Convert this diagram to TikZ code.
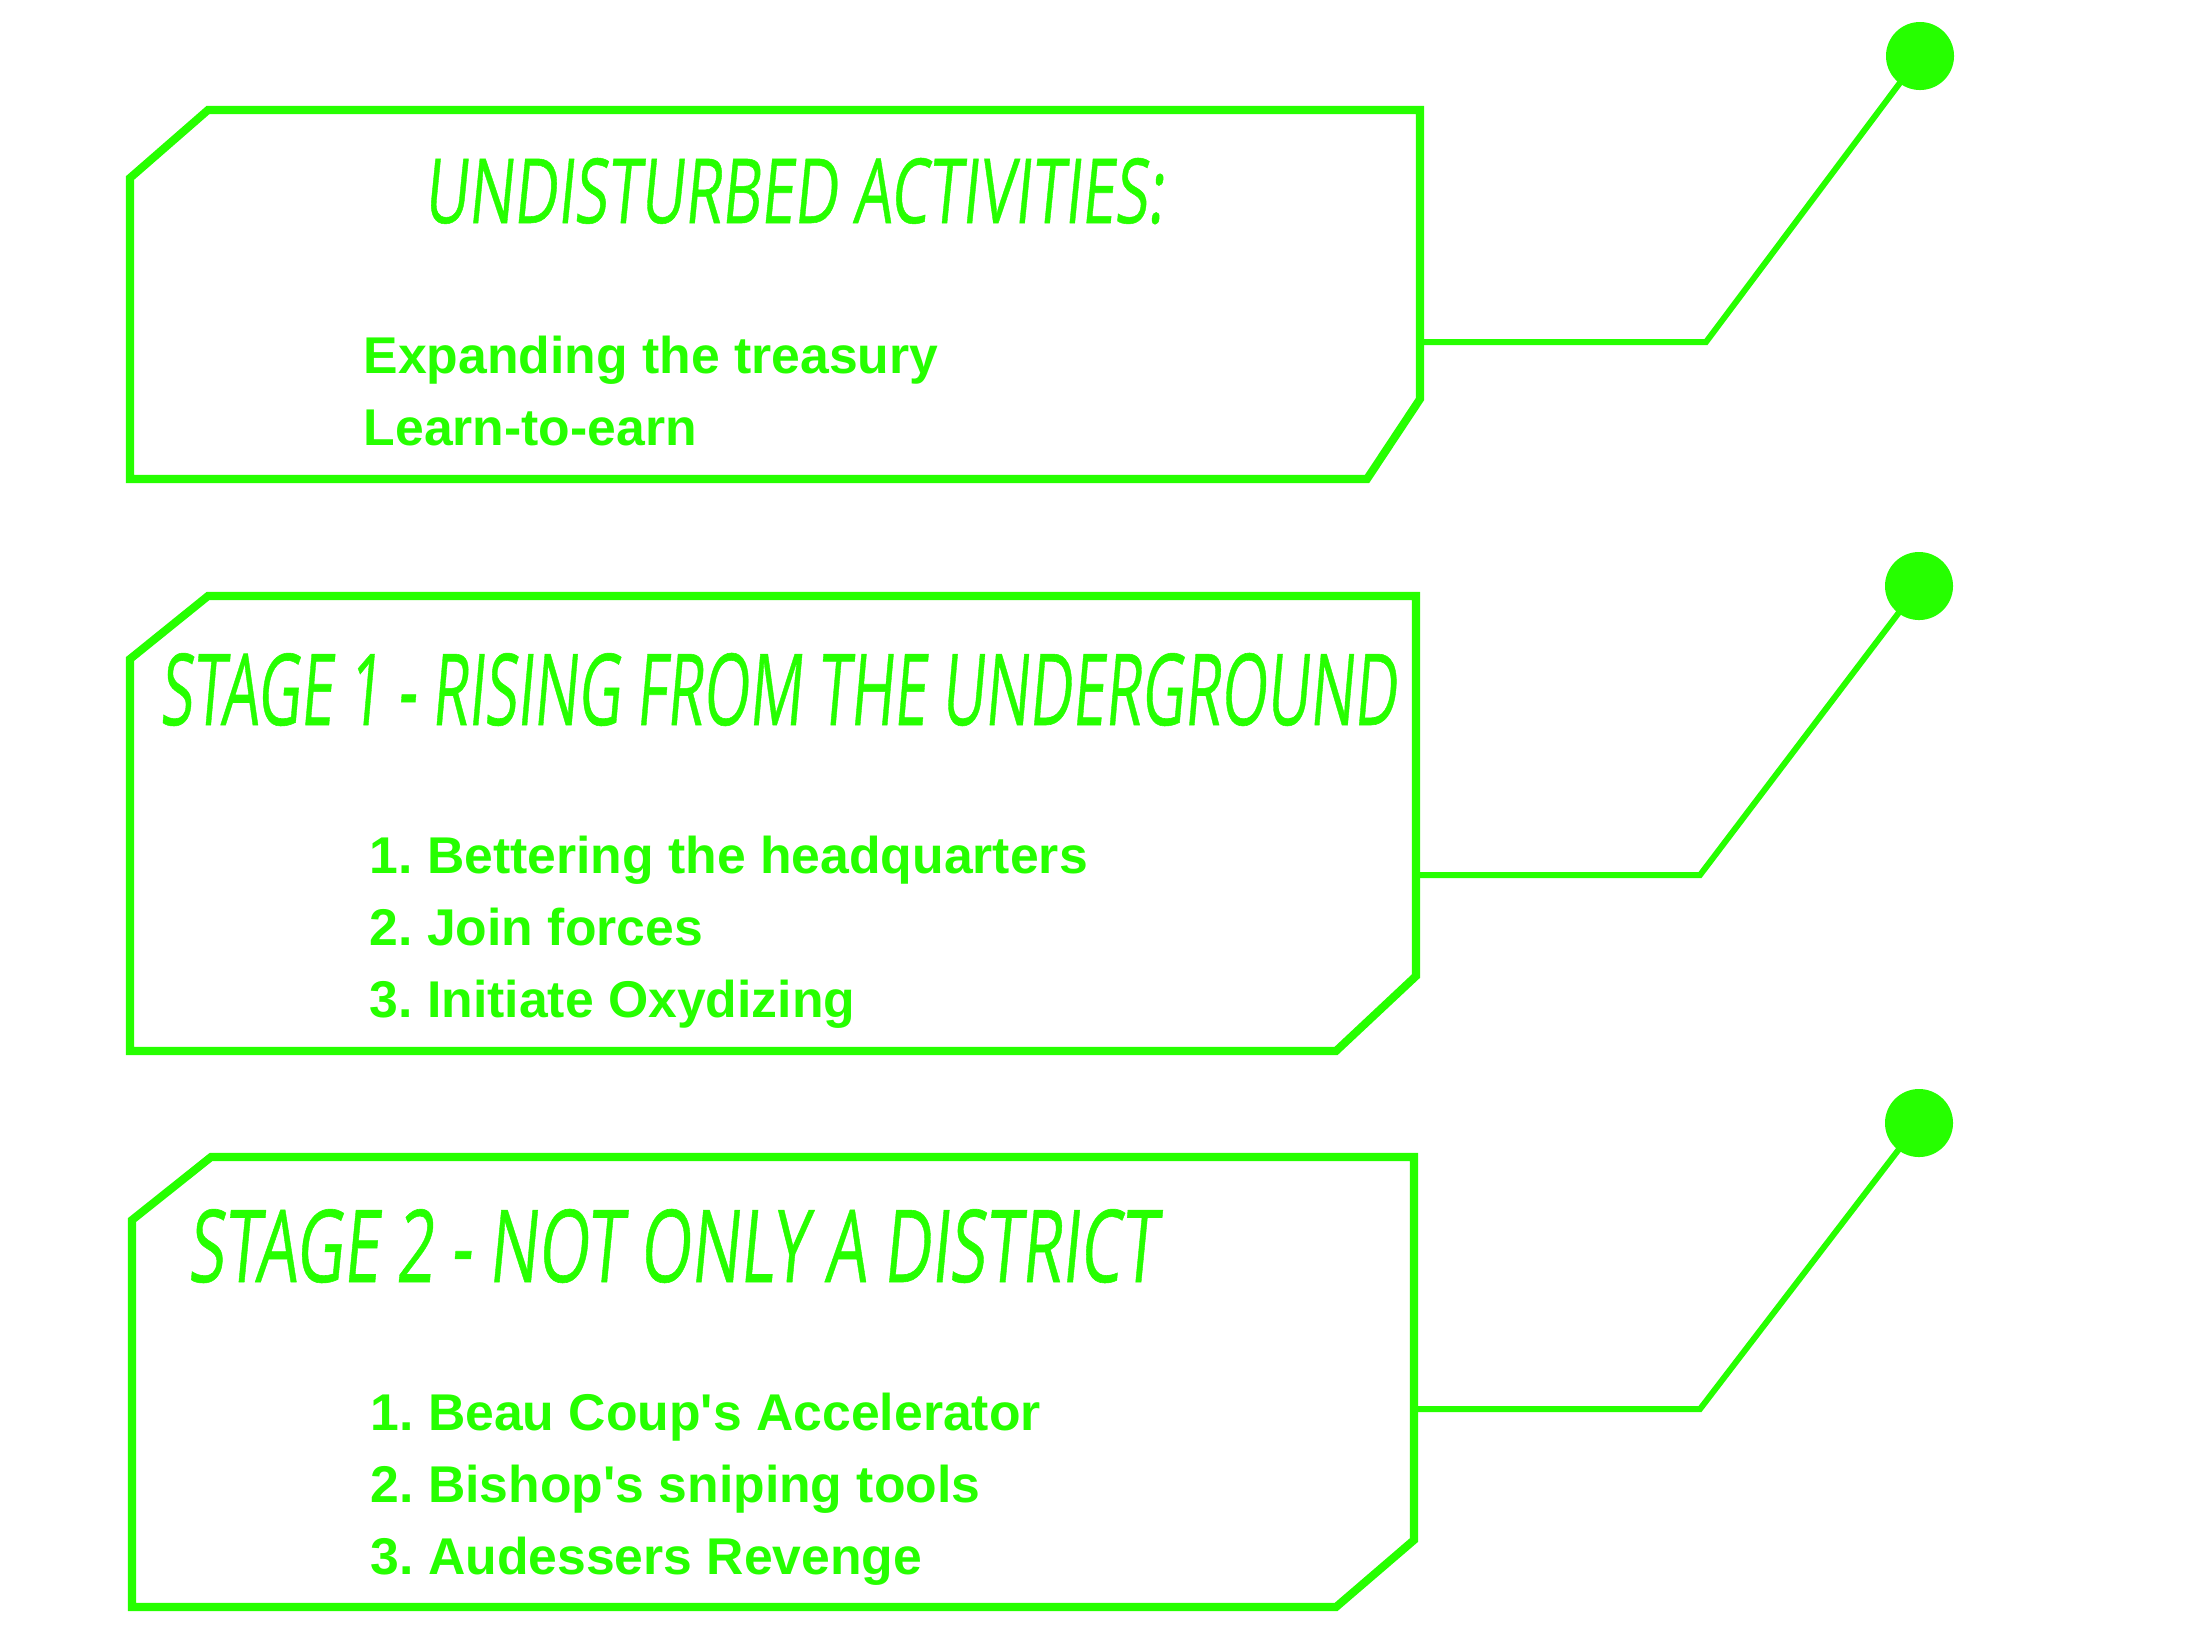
\documentclass[tikz,border=0pt]{standalone}
\usepackage{fontspec}
\usepackage{graphicx}
\setmainfont{Liberation Sans}
\newfontfamily\handfont[FakeSlant=0.15,FakeBold=0.6]{Open Sans}
\definecolor{neon}{RGB}{38,255,0}

\newcommand{\headtext}[3]{\resizebox{#1}{#2}{\handfont #3}}

\begin{document}
\frenchspacing
\begin{tikzpicture}[x=0.01cm,y=-0.01cm,
  panel/.style={draw=neon, line width=2.3pt, line join=miter},
  wire/.style={draw=neon, line width=1.7pt, line join=miter},
  pin/.style={circle, fill=neon, minimum size=0.68cm, inner sep=0pt},
  headline/.style={anchor=base west, inner sep=0pt, text=neon},
  item/.style={anchor=base west, inner sep=0pt, text=neon,
    font=\fontsize{14.7pt}{18pt}\selectfont\bfseries}]

\useasboundingbox (0,0) rectangle (2209,1632);

% --- panels with clipped corners ---
\draw[panel] (208,110) -- (1420,110) -- (1420,399) -- (1367,479)
  -- (130,479) -- (130,178) -- cycle;
\draw[panel] (208,596) -- (1416,596) -- (1416,976) -- (1336,1051)
  -- (130,1051) -- (130,659) -- cycle;
\draw[panel] (211,1157) -- (1414,1157) -- (1414,1540) -- (1336,1607)
  -- (132,1607) -- (132,1220) -- cycle;

% --- headings ---
\node[headline] (h0) at (423,223) {\headtext{7.39cm}{0.65cm}{UNDISTURBED ACTIVITIES:}};
\node[headline] (h1) at (159,725) {\headtext{12.36cm}{0.72cm}{STAGE 1 - RISING FROM THE UNDERGROUND}};
\node[headline] (h2) at (187,1282) {\headtext{9.68cm}{0.73cm}{STAGE 2 - NOT ONLY A DISTRICT}};

% --- items ---
\node[item] (a1) at (363,373) {Expanding the treasury};
\node[item] (a2) at (363,445) {Learn-to-earn};

\node[item] (b1) at (369,873) {1. Bettering the headquarters};
\node[item] (b2) at (369,945) {2. Join forces};
\node[item] (b3) at (369,1017) {3. Initiate Oxydizing};

\node[item] (c1) at (370,1430) {1. Beau Coup\textquotesingle s Accelerator};
\node[item] (c2) at (370,1502) {2. Bishop\textquotesingle s sniping tools};
\node[item] (c3) at (370,1574) {3. Audessers Revenge};

% --- pins and their leads ---
\node[pin] (p0) at (1920,56) {};
\node[pin] (p1) at (1919,586) {};
\node[pin] (p2) at (1919,1123) {};

\coordinate (s0) at (1420,342);
\coordinate (k0) at (1706,342);
\coordinate (s1) at (1416,875);
\coordinate (k1) at (1700,875);
\coordinate (s2) at (1414,1409);
\coordinate (k2) at (1700,1409);

\draw[wire] (s0) -- (k0) -- (p0.center);
\draw[wire] (s1) -- (k1) -- (p1.center);
\draw[wire] (s2) -- (k2) -- (p2.center);
\end{tikzpicture}
\end{document}
